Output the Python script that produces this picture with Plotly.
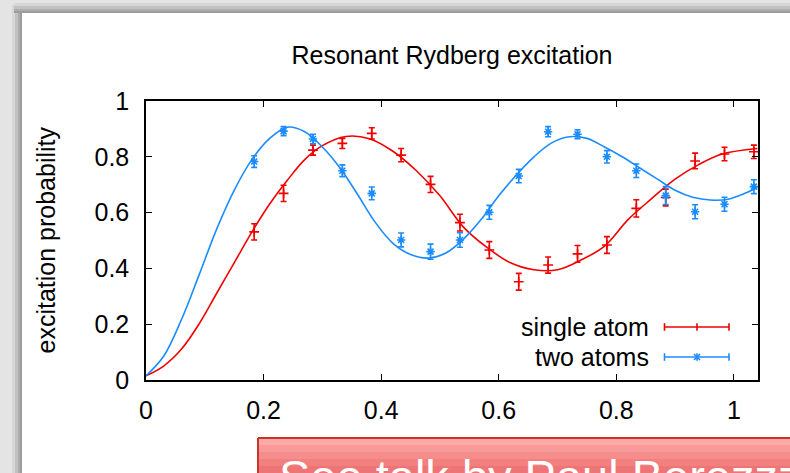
import plotly.graph_objects as go

# ---------------- data ----------------
x_points = [0.184, 0.234, 0.284, 0.334, 0.384, 0.434, 0.484, 0.534, 0.584,
            0.634, 0.684, 0.734, 0.784, 0.834, 0.884, 0.934, 0.984, 1.034]

single_y = [0.531, 0.669, 0.824, 0.848, 0.884, 0.806, 0.701, 0.564, 0.466,
            0.352, 0.412, 0.452, 0.484, 0.615, 0.654, 0.785, 0.810, 0.818]
single_err = [0.029, 0.029, 0.018, 0.018, 0.020, 0.024, 0.029, 0.030, 0.030,
              0.030, 0.029, 0.030, 0.030, 0.031, 0.030, 0.028, 0.024, 0.024]

two_y = [0.783, 0.892, 0.864, 0.750, 0.669, 0.502, 0.460, 0.502, 0.601,
         0.731, 0.890, 0.881, 0.800, 0.750, 0.661, 0.603, 0.630, 0.693]
two_err = [0.021, 0.016, 0.017, 0.021, 0.023, 0.025, 0.027, 0.026, 0.025,
           0.024, 0.018, 0.016, 0.022, 0.024, 0.032, 0.025, 0.025, 0.025]

# fitted curves
fit_single_x = [0, 0.03, 0.06, 0.09, 0.12, 0.15, 0.18, 0.21, 0.24, 0.27, 0.30,
                0.34, 0.38, 0.42, 0.46, 0.50, 0.54, 0.58, 0.62, 0.66, 0.70,
                0.74, 0.78, 0.82, 0.86, 0.90, 0.94, 0.98, 1.04]
fit_single_y = [0.015, 0.05, 0.11, 0.20, 0.31, 0.42, 0.53, 0.63, 0.715, 0.79,
                0.84, 0.873, 0.865, 0.82, 0.75, 0.66, 0.548, 0.475, 0.42,
                0.395, 0.395, 0.43, 0.48, 0.575, 0.65, 0.72, 0.772, 0.81, 0.83]

fit_two_x = [0, 0.03, 0.06, 0.09, 0.12, 0.15, 0.18, 0.21, 0.24, 0.27, 0.30,
             0.33, 0.36, 0.39, 0.42, 0.45, 0.48, 0.51, 0.54, 0.57, 0.60, 0.63,
             0.66, 0.69, 0.72, 0.75, 0.78, 0.81, 0.84, 0.87, 0.90, 0.93,
             0.96, 0.99, 1.02, 1.04]
fit_two_y = [0.015, 0.085, 0.215, 0.375, 0.54, 0.68, 0.79, 0.865, 0.906, 0.89,
             0.835, 0.76, 0.665, 0.565, 0.49, 0.45, 0.437, 0.455, 0.505, 0.575,
             0.66, 0.735, 0.80, 0.85, 0.872, 0.866, 0.835, 0.80, 0.76, 0.72,
             0.68, 0.655, 0.645, 0.648, 0.67, 0.69]

tick_vals = [0, 0.2, 0.4, 0.6, 0.8, 1]
tick_text = ["0", "0.2", "0.4", "0.6", "0.8", "1"]

title_text = "Resonant Rydberg excitation"
ylabel_text = "excitation probability"
legend_names = ["single atom", "two atoms"]
banner_text = "See talk by Paul Berezzz"

RED = "#f20000"
BLUE = "#1a8cff"
FONT = "Liberation Sans, Arial, sans-serif"
FS = 25

# ---------------- geometry helpers (pixel -> paper) ----------------
W, H = 790, 473
PL, PR, PT, PB = 146, 758, 101, 380


def px(x):
    return (x - PL) / (PR - PL)


def py(y):
    return (PB - y) / (PB - PT)


fig = go.Figure()

# fitted curves
fig.add_trace(go.Scatter(x=fit_single_x, y=fit_single_y, mode="lines",
                         line=dict(color=RED, width=1.6, shape="spline", smoothing=1.0),
                         hoverinfo="skip", showlegend=False))
fig.add_trace(go.Scatter(x=fit_two_x, y=fit_two_y, mode="lines",
                         line=dict(color=BLUE, width=1.6, shape="spline", smoothing=1.0),
                         hoverinfo="skip", showlegend=False))

# data points with error bars
fig.add_trace(go.Scatter(x=x_points, y=single_y, mode="markers", name=legend_names[0],
                         marker=dict(symbol="cross-thin", size=7, color=RED,
                                     line=dict(color=RED, width=1.6)),
                         error_y=dict(type="data", array=single_err, color=RED,
                                      thickness=1.6, width=3),
                         showlegend=False))
fig.add_trace(go.Scatter(x=x_points, y=two_y, mode="markers", name=legend_names[1],
                         marker=dict(symbol="asterisk", size=7, color=BLUE,
                                     line=dict(color=BLUE, width=1.6)),
                         error_y=dict(type="data", array=two_err, color=BLUE,
                                      thickness=1.6, width=3),
                         showlegend=False))

shapes = []

# ---- slide background: shadow + white panel ----
for (a, b, c) in [(12, 15, "#d6d6d6"), (15, 18, "#c2c2c2"), (18, 20, "#adadad"), (20, 22, "#9c9c9c")]:
    shapes.append(dict(type="rect", xref="paper", yref="paper", layer="below",
                       x0=px(a), x1=px(b), y0=py(490), y1=py(5), line=dict(width=0), fillcolor=c))
for (a, b, c) in [(3, 6, "#d6d6d6"), (6, 9, "#c2c2c2"), (9, 11, "#adadad"), (11, 13, "#9c9c9c")]:
    shapes.append(dict(type="rect", xref="paper", yref="paper", layer="below",
                       x0=px(14), x1=px(800), y0=py(b), y1=py(a), line=dict(width=0), fillcolor=c))
shapes.append(dict(type="rect", xref="paper", yref="paper", layer="below",
                   x0=px(22), x1=px(800), y0=py(490), y1=py(13),
                   line=dict(width=0), fillcolor="white"))

# ---- red banner at the bottom ----
for (a, b, c) in [(438, 445, "#fcaaa7"), (445, 452, "#f89b98"), (452, 459, "#f48d8b"),
                  (459, 466, "#f1807f"), (466, 490, "#ee7575")]:
    shapes.append(dict(type="rect", xref="paper", yref="paper", layer="above",
                       x0=px(258), x1=px(800), y0=py(b), y1=py(a),
                       line=dict(width=0), fillcolor=c))
shapes.append(dict(type="line", xref="paper", yref="paper", layer="above",
                   x0=px(258), x1=px(800), y0=py(438), y1=py(438),
                   line=dict(color="#c9352b", width=2)))
shapes.append(dict(type="line", xref="paper", yref="paper", layer="above",
                   x0=px(258), x1=px(258), y0=py(438), y1=py(490),
                   line=dict(color="#c9352b", width=2)))

# ---- gnuplot-style legend keys ----
kx0, kx1, kxm = px(664.5), px(729), px(697)
for (ky_px, col) in [(327, RED), (357, BLUE)]:
    ky = py(ky_px)
    dy = 3.8 / (PB - PT)
    shapes.append(dict(type="line", xref="paper", yref="paper", x0=kx0, x1=kx1, y0=ky, y1=ky,
                       line=dict(color=col, width=1.6)))
    for xx in (kx0, kx1):
        shapes.append(dict(type="line", xref="paper", yref="paper", x0=xx, x1=xx,
                           y0=ky - dy, y1=ky + dy, line=dict(color=col, width=1.6)))
    shapes.append(dict(type="line", xref="paper", yref="paper", x0=kxm, x1=kxm,
                       y0=ky - dy, y1=ky + dy, line=dict(color=col, width=1.6)))
    if col == BLUE:
        ddx = 3.0 / (PR - PL)
        ddy = 3.0 / (PB - PT)
        shapes.append(dict(type="line", xref="paper", yref="paper", x0=kxm - ddx, x1=kxm + ddx,
                           y0=ky - ddy, y1=ky + ddy, line=dict(color=col, width=1.6)))
        shapes.append(dict(type="line", xref="paper", yref="paper", x0=kxm - ddx, x1=kxm + ddx,
                           y0=ky + ddy, y1=ky - ddy, line=dict(color=col, width=1.6)))

annotations = [
    dict(text=ylabel_text, xref="paper", yref="paper", x=px(45), y=0.5,
         textangle=-90, showarrow=False, xanchor="center", yanchor="middle",
         font=dict(family=FONT, size=FS, color="black")),
    dict(text=legend_names[0], xref="paper", yref="paper", x=px(651), y=py(327),
         showarrow=False, xanchor="right", yanchor="middle",
         font=dict(family=FONT, size=FS, color="black")),
    dict(text=legend_names[1], xref="paper", yref="paper", x=px(651), y=py(357),
         showarrow=False, xanchor="right", yanchor="middle",
         font=dict(family=FONT, size=FS, color="black")),
    dict(text=banner_text, xref="paper", yref="paper", x=px(277), y=py(476),
         showarrow=False, xanchor="left", yanchor="middle",
         font=dict(family="Liberation Sans", size=47, color="white")),
]

axis_common = dict(showgrid=False, zeroline=False, showline=True, linecolor="black",
                   linewidth=1.5, mirror="ticks", ticks="inside", ticklen=6,
                   tickwidth=1.3, tickcolor="black", tickvals=tick_vals, ticktext=tick_text,
                   tickfont=dict(family=FONT, size=FS, color="black"))

fig.update_layout(
    width=W, height=H,
    margin=dict(l=PL, r=W - PR, t=PT, b=H - PB, pad=0),
    paper_bgcolor="#e4e4e4",
    plot_bgcolor="white",
    title=dict(text=title_text, x=0.5, xref="paper", xanchor="center",
               y=1 - 55 / H, yref="container", yanchor="middle",
               font=dict(family=FONT, size=FS, color="black")),
    xaxis=dict(range=[0, 1.041], ticklabelstandoff=7, **axis_common),
    yaxis=dict(range=[0, 1], ticklabelstandoff=10, **axis_common),
    shapes=shapes,
    annotations=annotations,
    showlegend=False,
)

fig.write_html("out.html")
